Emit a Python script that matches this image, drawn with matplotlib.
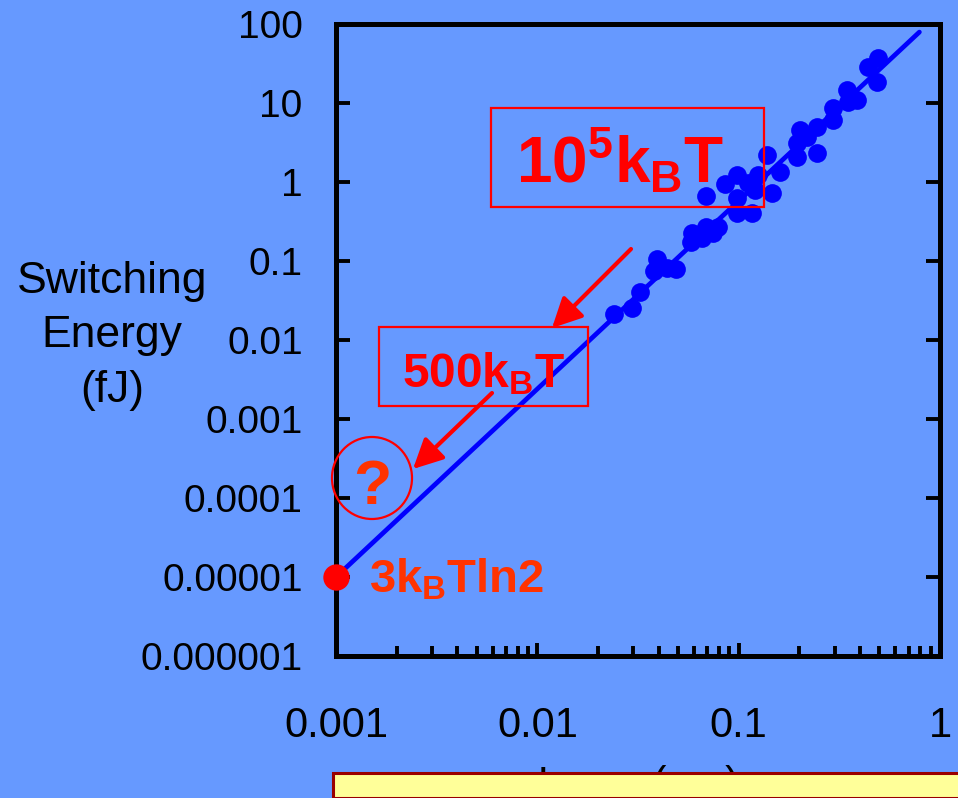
import matplotlib
matplotlib.use("Agg")
import matplotlib.pyplot as plt
from matplotlib.patches import Rectangle, Ellipse, FancyArrowPatch, ArrowStyle
from matplotlib.ticker import LogLocator, NullFormatter

plt.rcParams["font.family"] = "Liberation Sans"
plt.rcParams["mathtext.fontset"] = "custom"
plt.rcParams["mathtext.rm"] = "Liberation Sans:bold"
plt.rcParams["mathtext.it"] = "Liberation Sans:bold"
plt.rcParams["mathtext.bf"] = "Liberation Sans:bold"

# ---------------------------
# Data
# ---------------------------
length_um = [0.0240, 0.0295, 0.0324, 0.0394, 0.0380, 0.0440, 0.0489, 0.0588,
             0.0581, 0.0658, 0.0689, 0.0747, 0.0791, 0.0689, 0.0855, 0.0982,
             0.0982, 0.0982, 0.117, 0.111, 0.120, 0.125, 0.138, 0.147,
             0.161, 0.195, 0.202, 0.195, 0.245, 0.245, 0.219, 0.294,
             0.294, 0.346, 0.387, 0.350, 0.440, 0.493, 0.488]
energy_fj = [0.0213, 0.0254, 0.0406, 0.106, 0.0746, 0.0815, 0.0792, 0.226,
             0.174, 0.195, 0.269, 0.226, 0.269, 0.665, 0.944, 1.23,
             0.627, 0.406, 0.406, 0.970, 0.793, 1.23, 2.20, 0.726,
             1.34, 2.07, 4.55, 3.12, 2.33, 4.97, 3.72, 8.65,
             6.10, 14.6, 10.9, 10.3, 28.6, 37.1, 18.4]

fit_x = [0.001, 0.79]
fit_y = [1e-5, 79]

limit_x = [0.001]
limit_y = [1e-5]

x_ticks = [0.001, 0.01, 0.1, 1]
x_tick_labels = ["0.001", "0.01", "0.1", "1"]
y_ticks = [1e-6, 1e-5, 1e-4, 1e-3, 1e-2, 1e-1, 1, 10, 100]
y_tick_labels = ["0.000001", "0.00001", "0.0001", "0.001", "0.01",
                 "0.1", "1", "10", "100"]

BG = "#6699FF"
W, H = 958, 798


def fx(px):
    return px / W


def fy(py):
    return 1 - py / H


fig = plt.figure(figsize=(W / 100, H / 100), dpi=100, facecolor=BG)
ax = fig.add_axes([fx(336), fy(656), (940 - 336) / W, (656 - 24) / H])
ax.set_facecolor(BG)

ax.plot(fit_x, fit_y, color="#0000FF", lw=3.4, zorder=3, solid_capstyle="round")
ax.plot(length_um, energy_fj, "o", color="#0000FF", ms=13.5, mec="none", zorder=4)
ax.plot(limit_x, limit_y, "o", color="#FF0000", ms=19, mec="none", zorder=6, clip_on=False)

ax.set_xscale("log")
ax.set_yscale("log")
ax.set_xlim(0.001, 1)
ax.set_ylim(1e-6, 100)

ax.set_xticks(x_ticks)
ax.set_xticklabels(x_tick_labels)
ax.xaxis.set_minor_locator(LogLocator(base=10, subs=range(2, 10)))
ax.xaxis.set_minor_formatter(NullFormatter())
ax.set_yticks(y_ticks)
ax.set_yticklabels(y_tick_labels)
ax.yaxis.set_minor_locator(plt.NullLocator())

ax.tick_params(axis="x", which="major", direction="in", length=9.5, width=2.8,
               labelsize=30, pad=36, top=False)
ax.tick_params(axis="x", which="minor", direction="in", length=7, width=2.8, top=False)
ax.tick_params(axis="y", which="major", direction="in", length=10, width=2.8,
               labelsize=28, pad=24, right=True)
for s in ax.spines.values():
    s.set_linewidth(3.6)
    s.set_color("black")

# y label (three lines, horizontal)
fig.text(fx(112), fy(336), "Switching\nEnergy\n(fJ)", fontsize=32, ha="center",
         va="center", linespacing=1.42)

# x label, mostly hidden behind the yellow note box
fig.text(fx(638), fy(796), "L        (µm)", fontsize=30, ha="center", va="baseline")

# annotations
def ax_pt(px, py):
    return ((px - 336) / 604, (656 - py) / 632)


x0, y0 = ax_pt(491, 207)
x1, y1 = ax_pt(764, 108)
ax.add_patch(Rectangle((x0, y0), x1 - x0, y1 - y0, transform=ax.transAxes,
                       fill=False, ec="#FF0000", lw=1.6, zorder=5))
ax.text(*ax_pt(516, 183), r"$10^5k_BT$", transform=ax.transAxes, fontsize=46,
        color="#FF0000", ha="left", va="baseline", zorder=5)

x0, y0 = ax_pt(379, 406)
x1, y1 = ax_pt(588, 327)
ax.add_patch(Rectangle((x0, y0), x1 - x0, y1 - y0, transform=ax.transAxes,
                       fill=False, ec="#FF0000", lw=1.6, zorder=5))
ax.text(*ax_pt(402, 387), r"$500k_BT$", transform=ax.transAxes, fontsize=34.5,
        color="#FF0000", ha="left", va="baseline", zorder=5)

arrow_style = ArrowStyle("-|>", head_length=18, head_width=9)
for tail, tip in [((631, 249), (552, 328)), ((492, 393), (413, 469))]:
    ax.add_patch(FancyArrowPatch(ax_pt(*tail), ax_pt(*tip), transform=ax.transAxes,
                                 arrowstyle=arrow_style, mutation_scale=1,
                                 color="#FF0000", lw=3, shrinkA=0, shrinkB=0,
                                 zorder=5, clip_on=False))

ax.add_patch(Ellipse(ax_pt(372, 478), 80 / 604, 82 / 632, transform=ax.transAxes,
                     fill=False, ec="#FF0000", lw=1.6, zorder=5, clip_on=False))
ax.text(*ax_pt(372, 504), "?", transform=ax.transAxes, fontsize=45,
        fontweight="bold", color="#FF3300", ha="center", va="baseline", zorder=5)
ax.text(*ax_pt(369, 592), r"$3k_BT\mathrm{ln}2$", transform=ax.transAxes,
        fontsize=34, color="#FF3300", ha="left", va="baseline", zorder=5)

# yellow note box at the bottom, cut by the slide edge
fig.patches.append(Rectangle((fx(333), 0), 1, (H - 773) / H, transform=fig.transFigure,
                             facecolor="#FFFF99", edgecolor="#990000", lw=2.2,
                             zorder=10))

fig.savefig("out.png", dpi=100, facecolor=BG)
